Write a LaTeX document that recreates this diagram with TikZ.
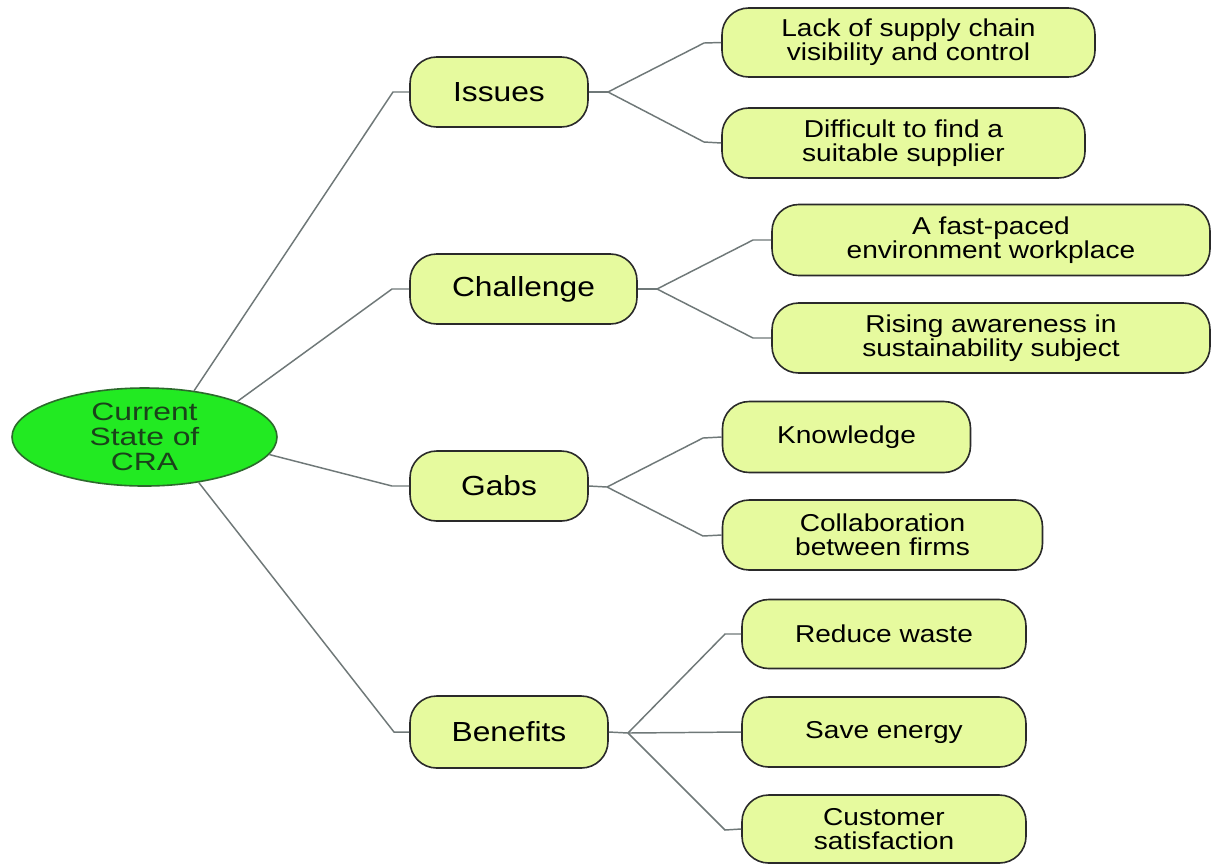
\documentclass[tikz,border=0pt]{standalone}
\usepackage{fontspec}
\setmainfont{Liberation Sans}[FakeStretch=1.15]
\newfontfamily\rootfont{Liberation Sans}[FakeStretch=1.27]
\usetikzlibrary{shapes.geometric}
\definecolor{leaffill}{HTML}{E6FA9E}
\definecolor{boxline}{HTML}{2A2A2A}
\definecolor{rootfill}{HTML}{22EA22}
\definecolor{rootline}{HTML}{2C6A2C}
\definecolor{roottext}{HTML}{1A421A}
\definecolor{conn}{HTML}{6F7878}
\def\pxu{0.75pt}
\begin{document}
\begin{tikzpicture}[x=0.75pt,y=-0.75pt,
  box/.style={draw=boxline, line width=1.2pt, fill=leaffill, rounded corners=20pt,
    inner sep=0pt, align=center, font=\fontsize{18.3}{18}\selectfont},
  midbox/.style={box, font=\fontsize{20.7}{20}\selectfont},
  rootnode/.style={ellipse, draw=rootline, line width=1.2pt, fill=rootfill, inner sep=0pt,
    align=center, text=roottext, font=\rootfont\fontsize{18.8}{19}\selectfont},
  link/.style={draw=conn, line width=1.1pt}]
\useasboundingbox (0,0) rectangle (1212,865);
\fill[white] (0,0) rectangle (1212,865);

\node[rootnode, minimum width=265*\pxu, minimum height=98*\pxu] (root) at (144.5,437) {Current\\State of\\CRA};

\node[midbox, minimum width=178*\pxu, minimum height=70*\pxu] (issues) at (499,92) {Issues};
\node[midbox, minimum width=227*\pxu, minimum height=70*\pxu] (chal) at (523.5,289) {Challenge};
\node[midbox, minimum width=178*\pxu, minimum height=70*\pxu] (gabs) at (499,486) {Gabs};
\node[midbox, minimum width=198*\pxu, minimum height=72*\pxu] (ben) at (509,732) {Benefits};

\node[box, minimum width=373*\pxu, minimum height=69*\pxu] (l1) at (908.5,42.5) {Lack of supply chain\\visibility and control};
\node[box, minimum width=363*\pxu, minimum height=70*\pxu] (l2) at (903.5,143) {Difficult to find a\\suitable supplier};
\node[box, minimum width=438*\pxu, minimum height=71*\pxu] (l3) at (991,240) {A fast-paced\\environment workplace};
\node[box, minimum width=438*\pxu, minimum height=70*\pxu] (l4) at (991,338) {Rising awareness in\\sustainability subject};
\node[box, minimum width=248*\pxu, minimum height=71*\pxu] (l5) at (846.5,437) {Knowledge};
\node[box, minimum width=320*\pxu, minimum height=70*\pxu] (l6) at (882.5,535) {Collaboration\\between firms};
\node[box, minimum width=284*\pxu, minimum height=69*\pxu] (l7) at (884,634) {Reduce waste};
\node[box, minimum width=284*\pxu, minimum height=70*\pxu] (l8) at (884,732) {Save energy};
\node[box, minimum width=284*\pxu, minimum height=68*\pxu] (l9) at (884,829) {Customer\\satisfaction};

% junction coordinates
\coordinate (jI) at (393,92);
\coordinate (jC) at (392,289);
\coordinate (jG) at (392,486);
\coordinate (jB) at (394,732);
\coordinate (kI) at (608,92);
\coordinate (kC) at (657,289);
\coordinate (kG) at (607,487);
\coordinate (kB) at (628,733);
\coordinate (a1) at (704,43);
\coordinate (a2) at (704,142);
\coordinate (a3) at (753,240);
\coordinate (a4) at (753,338);
\coordinate (a5) at (703,438);
\coordinate (a6) at (703,536);
\coordinate (a7) at (725,634);
\coordinate (a9) at (725,830);

\draw[link] (root.43.5) -- (jI) -- (issues.west);
\draw[link] (root.21.5) -- (jC) -- (chal.west);
\draw[link] (root.-8.6) -- (jG) -- (gabs.west);
\draw[link] (root.-40) -- (jB) -- (ben.west);

\draw[link] (issues.east) -- (kI);
\draw[link] (kI) -- (a1) -- (l1.west);
\draw[link] (kI) -- (a2) -- (l2.west);
\draw[link] (chal.east) -- (kC);
\draw[link] (kC) -- (a3) -- (l3.west);
\draw[link] (kC) -- (a4) -- (l4.west);
\draw[link] (gabs.east) -- (kG);
\draw[link] (kG) -- (a5) -- (l5.west);
\draw[link] (kG) -- (a6) -- (l6.west);
\draw[link] (ben.east) -- (kB);
\draw[link] (kB) -- (a7) -- (l7.west);
\draw[link] (kB) -- (l8.west);
\draw[link] (kB) -- (a9) -- (l9.west);
\end{tikzpicture}
\end{document}
